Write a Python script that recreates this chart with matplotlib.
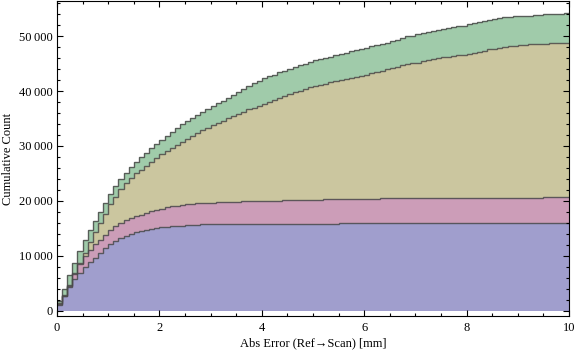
import numpy as np
import matplotlib
matplotlib.use("Agg")
import matplotlib.pyplot as plt
import matplotlib.ticker as ticker

plt.rcParams['font.family'] = ['Liberation Serif', 'DejaVu Serif']

# cumulative counts, tops of each stacked layer (bin width 0.1 mm)
bin_edges = np.linspace(0, 10, 101)

top_blue = [
    1100, 2670, 4240, 5690, 6900, 7880, 8900, 9690, 10530, 11380,
    12110, 12700, 13250, 13680, 14050, 14350, 14580, 14780, 14930, 15060,
    15170, 15260, 15340, 15410, 15480, 15540, 15600, 15650, 15700, 15740,
    15780, 15810, 15840, 15860, 15860, 15870, 15870, 15870, 15880, 15880,
    15880, 15880, 15880, 15880, 15880, 15880, 15880, 15880, 15880, 15880,
    15880, 15880, 15880, 15880, 15880, 15890, 15890, 15890, 15890, 15890,
    15890, 15890, 15890, 15890, 15890, 15890, 15890, 15890, 15890, 15890,
    15890, 15890, 15890, 15890, 15890, 15900, 15900, 15900, 15900, 15900,
    15900, 15900, 15900, 15900, 15900, 15900, 15900, 15900, 15900, 15900,
    15900, 15900, 15900, 15900, 15900, 15900, 15900, 15900, 15900, 15900,
]
top_pink = [
    1300, 2850, 4660, 6790, 8420, 9930, 11020, 12110, 12960, 13870,
    14650, 15370, 15970, 16450, 16850, 17200, 17500, 17800, 18100, 18350,
    18600, 18800, 18980, 19130, 19250, 19350, 19450, 19530, 19600, 19660,
    19700, 19740, 19780, 19810, 19850, 19850, 20030, 20030, 20030, 20030,
    20030, 20030, 20030, 20030, 20210, 20210, 20210, 20210, 20210, 20210,
    20210, 20210, 20400, 20400, 20400, 20400, 20400, 20400, 20400, 20400,
    20400, 20400, 20400, 20580, 20580, 20580, 20580, 20580, 20580, 20580,
    20580, 20580, 20580, 20580, 20580, 20580, 20580, 20580, 20580, 20580,
    20580, 20580, 20580, 20580, 20580, 20600, 20600, 20600, 20600, 20600,
    20600, 20600, 20600, 20600, 20600, 20620, 20620, 20620, 20620, 20620,
]
top_tan = [
    1450, 2670, 4480, 6660, 8600, 10530, 12470, 14280, 15970, 17680,
    19370, 20690, 22140, 23230, 24250, 25000, 25700, 26400, 27100, 27800,
    28450, 29050, 29650, 30250, 30800, 31350, 31850, 32350, 32850, 33300,
    33750, 34200, 34610, 35030, 35450, 35850, 36250, 36650, 37000, 37340,
    37700, 38080, 38450, 38800, 39150, 39460, 39760, 40060, 40360, 40650,
    40880, 41100, 41320, 41560, 41780, 41950, 42110, 42300, 42550, 42720,
    42960, 43200, 43450, 43700, 43920, 44150, 44450, 44700, 44900, 45080,
    45190, 45380, 45630, 45810, 45990, 46170, 46230, 46380, 46470, 46590,
    46830, 46950, 47190, 47320, 47560, 47680, 47860, 48040, 48170, 48280,
    48410, 48460, 48530, 48590, 48590, 48640, 48710, 48710, 48770, 48770,
]
top_green = [
    1815, 3990, 6420, 8600, 10890, 12830, 14650, 16340, 17910, 19600,
    21180, 22630, 23960, 25050, 26140, 27050, 27950, 28800, 29600, 30400,
    31150, 31900, 32600, 33300, 33950, 34550, 35100, 35650, 36200, 36750,
    37250, 37750, 38250, 38800, 39350, 39900, 40450, 40950, 41450, 41900,
    42290, 42650, 42960, 43380, 43690, 44000, 44360, 44720, 45010, 45320,
    45560, 45810, 46050, 46280, 46540, 46800, 47010, 47320, 47500, 47680,
    47920, 48170, 48410, 48640, 48820, 49130, 49370, 49730, 49980, 50090,
    50350, 50580, 50770, 50950, 51070, 51310, 51550, 51720, 51910, 51910,
    52160, 52340, 52520, 52710, 52890, 53120, 53310, 53430, 53540, 53610,
    53670, 53730, 53730, 53790, 53910, 53970, 53970, 54030, 54090, 54150,
]

layer_tops = [top_blue, top_pink, top_tan, top_green]
layer_colors = ['#a09ecd', '#cc9db8', '#cbc69f', '#a0cbaa']

fig = plt.figure(figsize=(5.76, 3.57), dpi=100)
ax = fig.add_axes([57 / 576, 1 - 316 / 357, 512 / 576, 315 / 357])

base = np.zeros(len(top_blue))
for tops, col in zip(layer_tops, layer_colors):
    tops = np.asarray(tops, dtype=float)
    ax.stairs(tops, bin_edges, baseline=base, fill=True, color=col, lw=0)
    base = tops

# step outlines on top of the fills
for tops in layer_tops:
    ax.stairs(tops, bin_edges, baseline=None, color='#4a4a4a', lw=1.0, alpha=0.85)

ax.set_xlim(0, 10)
ax.set_ylim(-960, 56390)


def fmt_count(value, _=None):
    v = int(round(value))
    if abs(v) < 10000:
        return str(v)
    return f"{v:,}".replace(",", "\u2009")


ax.xaxis.set_major_locator(ticker.MultipleLocator(2))
ax.xaxis.set_minor_locator(ticker.MultipleLocator(0.5))
ax.yaxis.set_major_locator(ticker.MultipleLocator(10000))
ax.yaxis.set_minor_locator(ticker.MultipleLocator(2000))
ax.yaxis.set_major_formatter(ticker.FuncFormatter(fmt_count))
ax.xaxis.set_major_formatter(ticker.FuncFormatter(lambda v, _: f"{v:g}"))

ax.tick_params(which='both', direction='in', top=True, right=True, width=0.8, color='black')
ax.tick_params(which='major', length=4.0, labelsize=9)
ax.tick_params(axis='y', which='major', pad=3)
ax.tick_params(axis='x', which='major', pad=4)
ax.tick_params(which='minor', length=2.2)
for s in ax.spines.values():
    s.set_linewidth(0.8)

ax.set_xlabel("Abs Error (Ref\u2192Scan) [mm]", fontsize=9, labelpad=3)
ax.set_ylabel("Cumulative Count", fontsize=9, labelpad=4)

fig.savefig("out.png", dpi=100)
